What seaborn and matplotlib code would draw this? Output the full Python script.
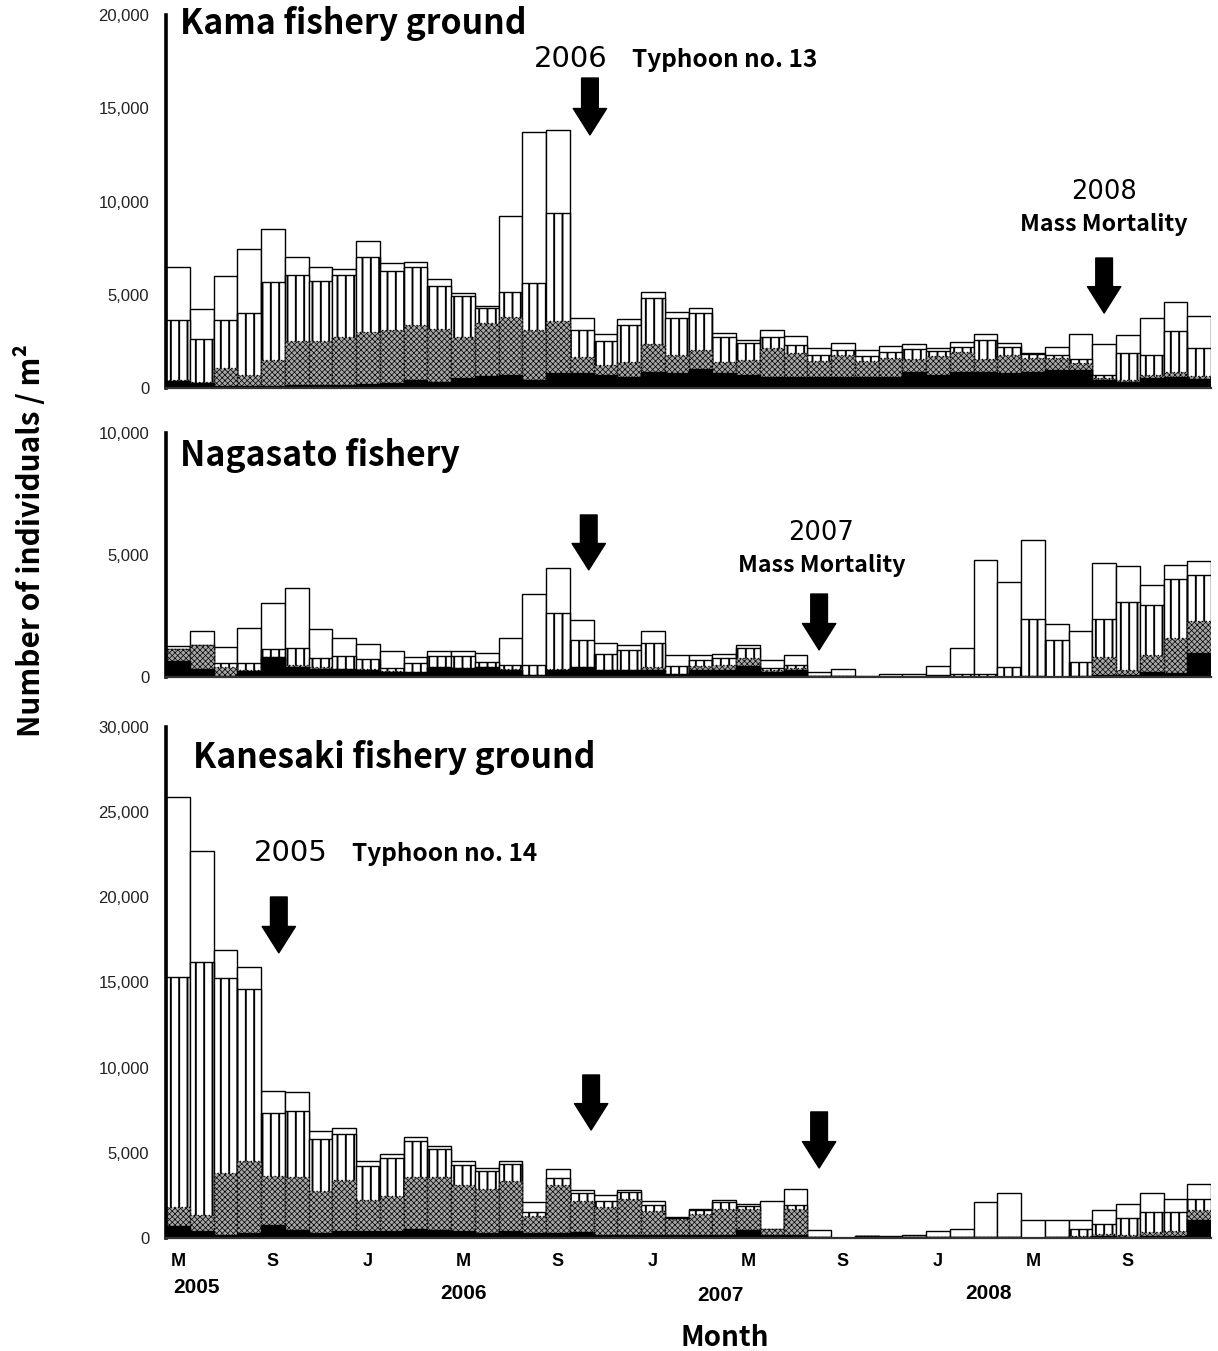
import numpy as np
import pandas as pd
import matplotlib
matplotlib.use("Agg")
import matplotlib.pyplot as plt
import seaborn as sns

# ---- data: monthly density (individuals / m^2), May 2005 - Dec 2008 ----
months = pd.period_range("2005-05", "2008-12", freq="M").strftime("%Y-%m").tolist()
tick_pos = [0, 4, 8, 12, 16, 20, 24, 28, 32, 36, 40]
tick_labels = ["M", "S", "J", "M", "S", "J", "M", "S", "J", "M", "S"]
year_labels = ["2005", "2006", "2007", "2008"]

kama_black = [400, 250, 100, 100, 100, 150, 150, 150, 200, 250, 430, 300, 520, 640, 700,
              430, 780, 780, 700, 610, 880, 780, 1000, 780, 700, 600, 600, 580, 600, 600,
              600, 880, 700, 880, 880, 780, 880, 970, 970, 430, 340, 520, 600, 500]
kama_gray = [50, 50, 950, 600, 1400, 2370, 2370, 2570, 2780, 2850, 2950, 2840, 2230, 2860, 3120,
             2670, 2820, 900, 530, 800, 1460, 990, 1040, 630, 800, 1530, 1260, 880, 1170, 860,
             990, 660, 1020, 1070, 660, 990, 710, 620, 350, 90, 90, 180, 280, 140]
kama_stripe = [3200, 2310, 2600, 3340, 4200, 3540, 3230, 3340, 4060, 3170, 3120, 2350, 2180, 800, 1310,
               2550, 5800, 1420, 1310, 1970, 2500, 1960, 2000, 1340, 900, 590, 440, 310, 270, 260,
               360, 530, 280, 260, 1030, 440, 230, 180, 220, 180, 1430, 1070, 2180, 1490]
kama_white = [2850, 1610, 2350, 3430, 2800, 980, 750, 340, 840, 450, 270, 340, 180, 100, 4090,
              8050, 4430, 630, 330, 300, 320, 330, 260, 180, 170, 380, 490, 360, 390, 320,
              300, 290, 130, 240, 330, 190, 80, 440, 1340, 1660, 980, 1960, 1570, 1730]

naga_black = [650, 340, 50, 250, 800, 410, 340, 340, 300, 200, 200, 410, 380, 410, 270,
              70, 300, 400, 270, 270, 270, 140, 300, 300, 440, 190, 300, 40, 50, 0,
              0, 0, 20, 20, 20, 20, 50, 20, 50, 100, 100, 200, 150, 980]
naga_gray = [500, 960, 360, 50, 0, 100, 50, 0, 40, 50, 0, 0, 0, 0, 50,
             0, 40, 0, 0, 0, 140, 0, 140, 200, 340, 110, 50, 0, 0, 0,
             0, 0, 0, 0, 0, 0, 0, 0, 0, 710, 200, 720, 1450, 1300]
naga_stripe = [0, 0, 160, 270, 330, 680, 390, 520, 410, 120, 390, 440, 470, 200, 160,
               430, 2300, 1120, 690, 850, 980, 300, 240, 280, 410, 70, 130, 0, 0, 0,
               0, 0, 80, 120, 120, 390, 2340, 1510, 560, 1580, 2760, 2020, 2430, 1910]
naga_white = [100, 590, 660, 1450, 1920, 2460, 1170, 740, 620, 700, 230, 200, 200, 390, 1130,
              2920, 1840, 820, 430, 180, 500, 450, 240, 160, 140, 340, 440, 150, 280, 30,
              140, 140, 340, 1050, 4670, 3480, 3240, 660, 1290, 2280, 1480, 840, 570, 550]

kane_black = [680, 390, 200, 300, 780, 490, 300, 430, 390, 390, 550, 490, 390, 300, 390,
              300, 300, 350, 160, 160, 160, 160, 160, 160, 450, 160, 160, 50, 0, 100,
              60, 60, 40, 40, 50, 30, 0, 80, 50, 100, 80, 100, 100, 1040]
kane_gray = [1120, 980, 3620, 4240, 2840, 3090, 2480, 2990, 1860, 2060, 3010, 3070, 2740, 2600, 2980,
             970, 2800, 1800, 1660, 2110, 1410, 980, 1270, 1560, 1270, 390, 1560, 0, 0, 0,
             0, 0, 0, 0, 0, 0, 0, 0, 50, 150, 80, 250, 290, 580]
kane_stripe = [13500, 14810, 11440, 10100, 3720, 3860, 3030, 2680, 1950, 2250, 2150, 1660, 1140, 1050, 970,
               260, 400, 490, 350, 430, 390, 30, 190, 390, 160, 0, 200, 0, 0, 0,
               0, 0, 0, 0, 0, 0, 0, 0, 450, 590, 1010, 1180, 1140, 690]
kane_white = [10570, 6520, 1670, 1250, 1270, 1110, 490, 360, 300, 230, 200, 160, 230, 160, 160,
              580, 570, 200, 330, 140, 190, 60, 100, 140, 100, 1620, 980, 400, 0, 40,
              60, 140, 350, 460, 2060, 2630, 1040, 960, 530, 820, 850, 1110, 780, 840]

# ---- styling ----
sns.set_style("white")
plt.rcParams["font.family"] = ["Liberation Sans", "DejaVu Sans"]
for key in ("text.color", "axes.labelcolor", "xtick.color", "ytick.color"):
    plt.rcParams[key] = "black"
plt.rcParams["hatch.linewidth"] = 1.4
GOTHIC = ["Noto Sans CJK JP", "DejaVu Sans"]
DIGITS = ["DejaVu Sans"]

fig = plt.figure(figsize=(12.18, 13.51), dpi=100)
W, H = 1218.0, 1351.0
left_px, width_px = 166, 1045


def make_ax(top_px, bottom_px):
    return fig.add_axes([left_px / W, 1 - bottom_px / H, width_px / W, (bottom_px - top_px) / H])


def draw_panel(ax, black, gray, stripe, white, ymax, ystep):
    b = np.array(black, float)
    g = np.array(gray, float)
    s = np.array(stripe, float)
    w = np.array(white, float)
    layers = [
        (b + g + s + w, dict(facecolor="white", hatch=None, linestyle="-", hlw=1.4)),
        (b + g + s, dict(facecolor="white", hatch="||", linestyle="-", hlw=1.4)),
        (b + g, dict(facecolor="#a6a6a6", hatch="xxxxxx", linestyle=":", hlw=0.5)),
        (b, dict(facecolor="black", hatch=None, linestyle="-", hlw=1.4)),
    ]
    for heights, style in layers:
        n0 = len(ax.patches)
        with plt.rc_context({"hatch.linewidth": style["hlw"]}):
            sns.barplot(x=months, y=heights, order=months, color="white", saturation=1,
                        width=1.0, errorbar=None, edgecolor="black", linewidth=1.0, ax=ax)
        for p in ax.patches[n0:]:
            p.set_facecolor(style["facecolor"])
            p.set_hatch(style["hatch"])
            p.set_linestyle(style["linestyle"])
            if hasattr(p, "set_hatch_linewidth"):
                p.set_hatch_linewidth(style["hlw"])
    ax.set_xlim(-0.5, len(months) - 0.5)
    ax.set_ylim(0, ymax)
    yt = np.arange(0, ymax + 1, ystep)
    ax.set_yticks(yt)
    ax.set_yticklabels([f"{int(v):,}" for v in yt])
    ax.tick_params(axis="y", direction="in", length=3, width=2, pad=12,
                   labelsize=12, labelcolor="#222222")
    ax.set_xlabel("")
    ax.set_ylabel("")
    for side in ("top", "right"):
        ax.spines[side].set_visible(False)
    ax.spines["left"].set_linewidth(2.6)
    ax.spines["left"].set_color("black")
    ax.spines["bottom"].set_linewidth(1.6)
    ax.spines["bottom"].set_color("#333333")
    ax.set_xticks([])


def arrow(ax, x, y_tail, y_tip):
    ax.annotate("", xy=(x, y_tip), xytext=(x, y_tail), xycoords="data",
                arrowprops=dict(arrowstyle="simple,head_length=19,head_width=24,tail_width=12",
                                mutation_scale=1, color="black", shrinkA=0, shrinkB=0))


def year_text(ax, x, y, txt, size=21):
    ax.text(x, y, txt, ha="center", va="center", family=DIGITS, fontsize=size,
            color="black")


def note_text(ax, x, y, txt, ha="left", size=17.5):
    ax.text(x, y, txt, ha=ha, va="center", family=GOTHIC, fontsize=size,
            fontweight="bold", color="black")


TITLE_SIZE = 24.3

# Kama fishery ground
ax1 = make_ax(15, 388)
draw_panel(ax1, kama_black, kama_gray, kama_stripe, kama_white, 20000, 5000)
ax1.text(0.0134, 0.976, "Kama fishery ground", transform=ax1.transAxes, ha="left", va="center",
         family=GOTHIC, fontsize=TITLE_SIZE, fontweight="bold")
year_text(ax1, 16.55, 17640, "2006")
note_text(ax1, 19.1, 17590, "Typhoon no. 13")
arrow(ax1, 17.35, 16620, 13570)
year_text(ax1, 39.0, 10510, "2008", size=18.5)
note_text(ax1, 39.0, 8740, "Mass Mortality", ha="center", size=16.7)
arrow(ax1, 39.0, 6970, 4020)

# Nagasato fishery
ax2 = make_ax(433, 677)
draw_panel(ax2, naga_black, naga_gray, naga_stripe, naga_white, 10000, 5000)
ax2.text(0.0134, 0.906, "Nagasato fishery", transform=ax2.transAxes, ha="left", va="center",
         family=GOTHIC, fontsize=TITLE_SIZE, fontweight="bold")
arrow(ax2, 17.3, 6640, 4390)
year_text(ax2, 27.1, 5900, "2007", size=18.5)
note_text(ax2, 27.1, 4550, "Mass Mortality", ha="center", size=16.7)
arrow(ax2, 27.0, 3400, 1110)

# Kanesaki fishery ground
ax3 = make_ax(727, 1238)
draw_panel(ax3, kane_black, kane_gray, kane_stripe, kane_white, 30000, 5000)
ax3.text(0.0258, 0.941, "Kanesaki fishery ground", transform=ax3.transAxes, ha="left", va="center",
         family=GOTHIC, fontsize=TITLE_SIZE, fontweight="bold")
year_text(ax3, 4.76, 22600, "2005")
note_text(ax3, 7.33, 22550, "Typhoon no. 14")
arrow(ax3, 4.25, 20020, 16740)
arrow(ax3, 17.4, 9570, 6340)
arrow(ax3, 27.0, 7400, 4110)

ax3.set_xticks(tick_pos)
ax3.set_xticklabels(tick_labels, fontsize=13, fontweight="bold")
ax3.tick_params(axis="x", length=0, pad=11)
year_x = [0.8, 12.04, 22.86, 34.15]
year_y = [-0.096, -0.108, -0.113, -0.108]
xt = ax3.get_xaxis_transform()
for x, y, lab in zip(year_x, year_y, year_labels):
    ax3.text(x, y, lab, transform=xt, ha="center", va="center", fontsize=15,
             fontweight="bold", color="black")

fig.text(725 / W, 1 - 1338 / H, "Month", ha="center", va="center", family=GOTHIC,
         fontsize=20, fontweight="bold")
fig.text(30 / W, 1 - 540 / H, "Number of individuals / m²", ha="center", va="center",
         rotation=90, family=GOTHIC, fontsize=21.5, fontweight="bold")

fig.savefig("out.png", dpi=100, facecolor="white")
